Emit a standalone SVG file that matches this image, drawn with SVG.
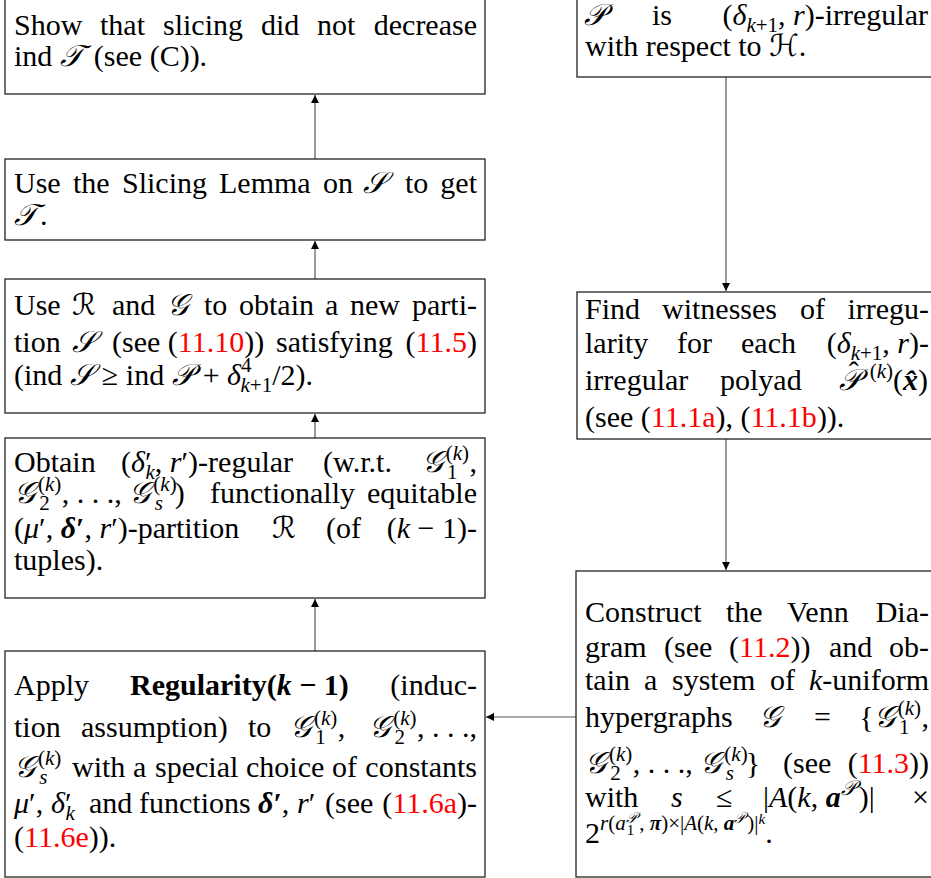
<svg xmlns="http://www.w3.org/2000/svg" width="931" height="878" viewBox="0 0 931 878">
<style>
text{font-family:"Liberation Serif","DejaVu Serif","DejaVu Sans",serif;font-size:30px;fill:#000}
.i{font-style:italic}
.b{font-weight:bold}
.r{fill:#ff0000}
.s{font-size:21px}
.ss{font-size:15px}
.box{fill:#fff;stroke:#222;stroke-width:1.3}
.c{stroke:#555;stroke-width:1.2;fill:none;marker-end:url(#ah)}
.e{text-anchor:end}
</style>
<defs>
<marker id="ah" markerUnits="userSpaceOnUse" markerWidth="10" markerHeight="10" refX="8" refY="4" orient="auto">
<path d="M0,0 L8,4 L0,8 Z" fill="#000"/>
</marker>
</defs>

<g id="connectors">
<line class="c" x1="315" y1="159" x2="315" y2="95"/>
<line class="c" x1="315" y1="279" x2="315" y2="241"/>
<line class="c" x1="315" y1="438" x2="315" y2="414"/>
<line class="c" x1="315" y1="651" x2="315" y2="599"/>
<line class="c" x1="726" y1="77" x2="726" y2="291"/>
<line class="c" x1="726" y1="439" x2="726" y2="570"/>
<line class="c" x1="576" y1="717" x2="486" y2="717"/>
</g>

<g id="n1">
<rect class="box" x="5" y="-5" width="480" height="99"/>
<text y="35"><tspan x="14">Show</tspan><tspan x="100">that</tspan><tspan x="163">slicing</tspan><tspan x="261">did</tspan><tspan x="317">not</tspan></text>
<text class="e" x="477" y="35">decrease</text>
<text x="14" y="66">ind <tspan class="i">𝒯</tspan><tspan dx="11">(see (C)).</tspan></text>
</g>

<g id="n2">
<rect class="box" x="577" y="-5" width="360" height="82"/>
<text y="25"><tspan x="584" class="i">𝒫</tspan><tspan x="652">is</tspan></text>
<text class="e" x="928" y="25">(<tspan class="i">δ</tspan><tspan class="s i" dy="7">k</tspan><tspan class="s">+1</tspan><tspan dy="-7">, </tspan><tspan class="i">r</tspan>)-irregular</text>
<text x="585" y="56">with respect to <tspan class="i">ℋ</tspan>.</text>
</g>

<g id="n3">
<rect class="box" x="5" y="159" width="480" height="81"/>
<text y="193"><tspan x="14">Use</tspan><tspan x="73">the</tspan><tspan x="122">Slicing</tspan><tspan x="219">Lemma</tspan><tspan x="323">on</tspan><tspan x="363" class="i">𝒮</tspan><tspan x="405">to</tspan></text>
<text class="e" x="477" y="193">get</text>
<text x="14" y="225"><tspan class="i">𝒯</tspan><tspan dx="3">.</tspan></text>
</g>

<g id="n4">
<rect class="box" x="5" y="279" width="480" height="134"/>
<text y="315"><tspan x="14">Use</tspan><tspan x="72" class="i">ℛ</tspan><tspan x="112">and</tspan><tspan x="167" class="i">𝒢</tspan><tspan x="204">to</tspan><tspan x="239">obtain</tspan><tspan x="325">a</tspan><tspan x="350">new</tspan></text>
<text class="e" x="477" y="315">parti-</text>
<text y="352"><tspan x="14">tion</tspan><tspan x="72" class="i">𝒮</tspan><tspan x="112">(see (<tspan class="r">11.10</tspan>))</tspan><tspan x="276">satisfying</tspan></text>
<text class="e" x="477" y="352">(<tspan class="r">11.5</tspan>)</text>
<text x="14" y="385">(ind <tspan class="i">𝒮</tspan><tspan dx="9">≥ ind </tspan><tspan class="i">𝒫</tspan><tspan dx="9">+ </tspan><tspan class="i">δ</tspan><tspan class="s" dy="-13">4</tspan><tspan class="s i" dx="-11" dy="20">k</tspan><tspan class="s">+1</tspan><tspan dy="-7">/2).</tspan></text>
</g>

<g id="n5">
<rect class="box" x="577" y="292" width="360" height="147"/>
<text y="319"><tspan x="585">Find</tspan><tspan x="662">witnesses</tspan><tspan x="800">of</tspan></text>
<text class="e" x="929" y="319">irregu-</text>
<text y="353"><tspan x="585">larity</tspan><tspan x="677">for</tspan><tspan x="741">each</tspan></text>
<text class="e" x="929" y="353">(<tspan class="i">δ</tspan><tspan class="s i" dy="7">k</tspan><tspan class="s">+1</tspan><tspan dy="-7">, </tspan><tspan class="i">r</tspan>)-</text>
<text y="390"><tspan x="585">irregular</tspan><tspan x="720">polyad</tspan></text>
<text class="e" x="928" y="390"><tspan class="i">𝒫</tspan><tspan dx="-12" dy="-8">ˆ</tspan><tspan class="s" dx="11" dy="-4">(<tspan class="i">k</tspan>)</tspan><tspan dy="12">(</tspan><tspan class="b i">x̂</tspan>)</text>
<text x="585" y="427">(see (<tspan class="r">11.1a</tspan>), (<tspan class="r">11.1b</tspan>)).</text>
</g>

<g id="n6">
<rect class="box" x="5" y="438" width="480" height="160"/>
<text y="472"><tspan x="14">Obtain</tspan><tspan x="121">(<tspan class="i">δ</tspan>′<tspan class="s i" dx="-6" dy="7">k</tspan><tspan dy="-7">, </tspan><tspan class="i">r</tspan>′)-regular</tspan><tspan x="323">(w.r.t.</tspan></text>
<text class="e" x="477" y="472"><tspan class="i">𝒢</tspan><tspan class="s" dx="3" dy="-12">(<tspan class="i">k</tspan>)</tspan><tspan class="s" dx="-22" dy="19">1</tspan><tspan dx="12" dy="-7">,</tspan></text>
<text y="503"><tspan x="14" class="i">𝒢</tspan><tspan class="s" dx="3" dy="-12">(<tspan class="i">k</tspan>)</tspan><tspan class="s" dx="-22" dy="19">2</tspan><tspan dx="12" dy="-7">, . . ., </tspan><tspan class="i">𝒢</tspan><tspan class="s" dx="3" dy="-12">(<tspan class="i">k</tspan>)</tspan><tspan class="s i" dx="-22" dy="19">s</tspan><tspan dx="12" dy="-7">)</tspan><tspan x="210">functionally</tspan></text>
<text class="e" x="477" y="503">equitable</text>
<text y="538"><tspan x="14">(<tspan class="i">μ</tspan>′, <tspan class="b i">δ</tspan><tspan class="b">′</tspan>, <tspan class="i">r</tspan>′)-partition</tspan><tspan x="272" class="i">ℛ</tspan><tspan x="326">(of</tspan></text>
<text class="e" x="477" y="538">(<tspan class="i">k</tspan> − 1)-</text>
<text x="14" y="570">tuples).</text>
</g>

<g id="n7">
<rect class="box" x="5" y="651" width="480" height="226"/>
<text y="695"><tspan x="14">Apply</tspan><tspan x="130" class="b">Regularity(<tspan class="i">k</tspan> − 1)</tspan></text>
<text class="e" x="477" y="695">(induc-</text>
<text y="737"><tspan x="14">tion</tspan><tspan x="81">assumption)</tspan><tspan x="248">to</tspan><tspan x="290" class="i">𝒢</tspan><tspan class="s" dx="3" dy="-12">(<tspan class="i">k</tspan>)</tspan><tspan class="s" dx="-22" dy="19">1</tspan><tspan dx="12" dy="-7">,</tspan></text>
<text class="e" x="477" y="737"><tspan class="i">𝒢</tspan><tspan class="s" dx="3" dy="-12">(<tspan class="i">k</tspan>)</tspan><tspan class="s" dx="-22" dy="19">2</tspan><tspan dx="12" dy="-7">, . . .,</tspan></text>
<text y="777"><tspan x="14" class="i">𝒢</tspan><tspan class="s" dx="3" dy="-12">(<tspan class="i">k</tspan>)</tspan><tspan class="s i" dx="-22" dy="19">s</tspan><tspan x="72" dy="-7">with</tspan><tspan x="133">a</tspan><tspan x="155">special</tspan><tspan x="246">choice</tspan><tspan x="332">of</tspan></text>
<text class="e" x="477" y="777">constants</text>
<text y="813"><tspan x="14"><tspan class="i">μ</tspan>′,</tspan><tspan x="51"><tspan class="i">δ</tspan>′<tspan class="s i" dx="-6" dy="7">k</tspan></tspan><tspan x="89" dy="-7">and</tspan><tspan x="139">functions</tspan><tspan x="258"><tspan class="b i">δ</tspan><tspan class="b">′</tspan>,</tspan><tspan x="297"><tspan class="i">r</tspan>′</tspan><tspan x="325">(see</tspan></text>
<text class="e" x="477" y="813">(<tspan class="r">11.6a</tspan>)-</text>
<text x="14" y="847">(<tspan class="r">11.6e</tspan>)).</text>
</g>

<g id="n8">
<rect class="box" x="576" y="571" width="361" height="306"/>
<text y="622"><tspan x="585">Construct</tspan><tspan x="726">the</tspan><tspan x="787">Venn</tspan></text>
<text class="e" x="929" y="622">Dia-</text>
<text y="657"><tspan x="585">gram</tspan><tspan x="664">(see</tspan><tspan x="729">(<tspan class="r">11.2</tspan>))</tspan><tspan x="829">and</tspan></text>
<text class="e" x="929" y="657">ob-</text>
<text y="690"><tspan x="585">tain</tspan><tspan x="644">a</tspan><tspan x="672">system</tspan><tspan x="770">of</tspan></text>
<text class="e" x="929" y="690"><tspan class="i">k</tspan>-uniform</text>
<text y="727"><tspan x="585">hypergraphs</tspan><tspan x="759" class="i">𝒢</tspan><tspan x="814">=</tspan></text>
<text class="e" x="929" y="727">{<tspan class="i">𝒢</tspan><tspan class="s" dx="3" dy="-12">(<tspan class="i">k</tspan>)</tspan><tspan class="s" dx="-22" dy="19">1</tspan><tspan dx="12" dy="-7">,</tspan></text>
<text y="773"><tspan x="585" class="i">𝒢</tspan><tspan class="s" dx="3" dy="-12">(<tspan class="i">k</tspan>)</tspan><tspan class="s" dx="-22" dy="19">2</tspan><tspan dx="12" dy="-7">, . . ., </tspan><tspan class="i">𝒢</tspan><tspan class="s" dx="3" dy="-12">(<tspan class="i">k</tspan>)</tspan><tspan class="s i" dx="-22" dy="19">s</tspan><tspan dx="12" dy="-7">}</tspan><tspan x="783">(see</tspan></text>
<text class="e" x="929" y="773">(<tspan class="r">11.3</tspan>))</text>
<text y="807"><tspan x="585">with</tspan><tspan x="671" class="i">s</tspan><tspan x="716">≤</tspan><tspan x="763">|<tspan class="i">A</tspan>(<tspan class="i">k</tspan>, <tspan class="b i">a</tspan><tspan class="s i" dy="-12">𝒫</tspan><tspan dx="3" dy="12">)|</tspan></tspan></text>
<text class="e" x="929" y="807">×</text>
<text x="585" y="843">2<tspan class="s" dy="-13"><tspan class="i">r</tspan>(<tspan class="i">a</tspan><tspan class="ss i" dy="-7">𝒫</tspan><tspan class="ss" dx="-10" dy="12">1</tspan><tspan dx="5" dy="-5">, </tspan><tspan class="b i">π</tspan>)×|<tspan class="i">A</tspan>(<tspan class="i">k</tspan>, <tspan class="b i">a</tspan><tspan class="ss i" dy="-7">𝒫</tspan><tspan dx="2" dy="7">)|</tspan><tspan class="ss i" dy="-6">k</tspan></tspan><tspan dy="19">.</tspan></text>
</g>
</svg>
